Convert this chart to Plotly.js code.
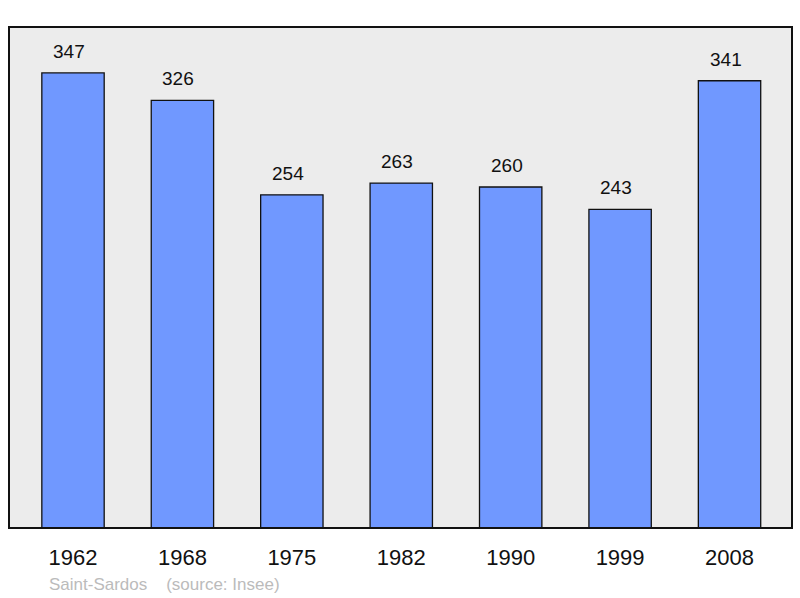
<!DOCTYPE html>
<html>
<head>
<meta charset="utf-8">
<script src="https://cdn.plot.ly/plotly-3.0.1.min.js"></script>
<style>html,body{margin:0;padding:0;background:#fff;}#chart{width:800px;height:598px;}</style>
</head>
<body>
<div id="chart"></div>
<script>
const years = ["1962", "1968", "1975", "1982", "1990", "1999", "2008"];
const population = [347, 326, 254, 263, 260, 243, 341];
const footerText = "Saint-Sardos\u00a0\u00a0\u00a0\u00a0(source: Insee)";

const W = 800, H = 598;
const margin = {l: 9, r: 8, t: 27, b: 70};
const plotW = W - margin.l - margin.r;
const FONT = "Liberation Sans, Arial, sans-serif";

const trace = {
  type: "bar",
  x: years,
  y: population,
  width: 0.57,
  marker: {color: "#7098ff", line: {color: "#111", width: 1.3}},
  hoverinfo: "none"
};

const annotations = years.map((yr, i) => ({
  x: i, y: population[i], xref: "x", yref: "y",
  text: String(population[i]), showarrow: false,
  yanchor: "bottom", yshift: 9, xshift: -4,
  font: {family: FONT, size: 19, color: "#111"}
}));
annotations.push({
  xref: "paper", yref: "paper", x: (47 - margin.l) / plotW, y: -0.113,
  xanchor: "left", yanchor: "middle", showarrow: false,
  text: footerText,
  font: {family: FONT, size: 17, color: "#bbbbbb"}
});

const layout = {
  width: W, height: H,
  margin: margin,
  paper_bgcolor: "#ffffff",
  plot_bgcolor: "#ececec",
  showlegend: false,
  xaxis: {
    type: "category",
    range: [-0.585, 6.571],
    showgrid: false, zeroline: false, showline: false,
    ticks: "outside", ticklen: 10, tickcolor: "rgba(0,0,0,0)",
    tickfont: {family: FONT, size: 22, color: "#111"},
    fixedrange: true
  },
  yaxis: {
    range: [0, 382],
    showgrid: false, zeroline: false, showline: false,
    showticklabels: false, ticks: "",
    fixedrange: true
  },
  shapes: [{
    type: "rect", xref: "paper", yref: "paper",
    x0: 0, x1: 1, y0: 0, y1: 1,
    line: {color: "#111", width: 2}, layer: "above"
  }],
  annotations: annotations
};

Plotly.newPlot("chart", [trace], layout, {displayModeBar: false, staticPlot: true});
</script>
</body>
</html>
